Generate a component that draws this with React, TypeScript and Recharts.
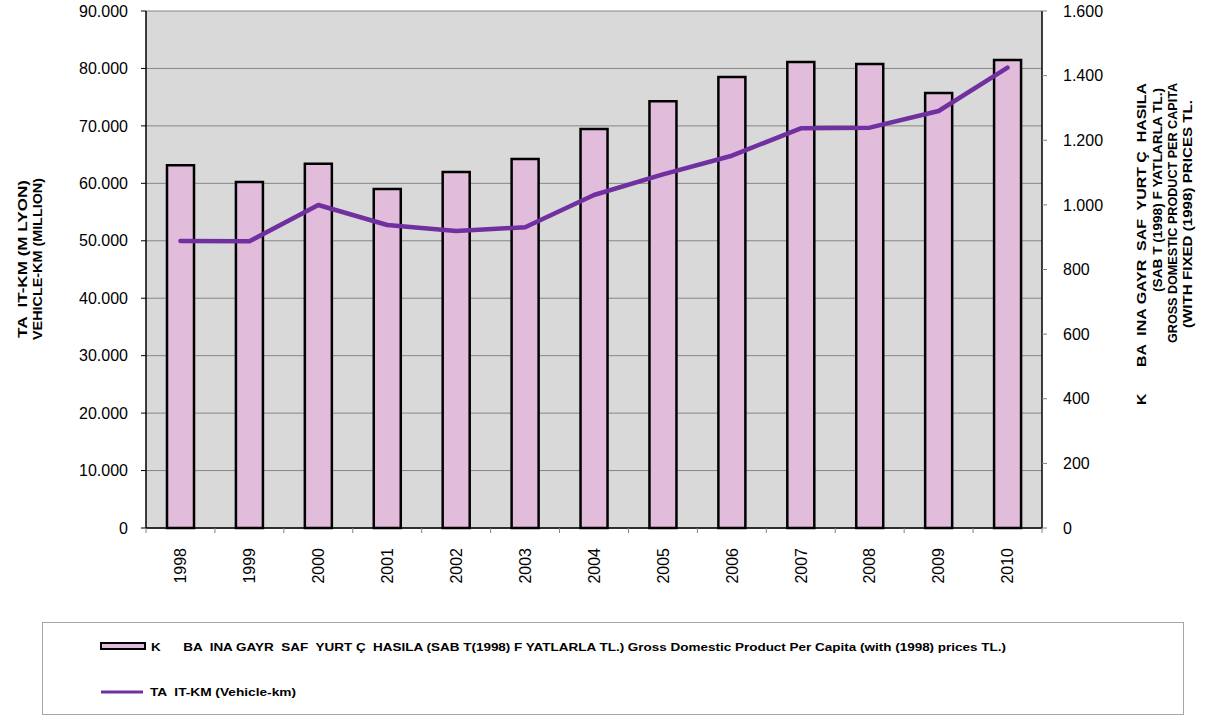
import React from 'react';
import { ComposedChart, Bar, Line, XAxis, YAxis, CartesianGrid } from 'recharts';

const years = ['1998', '1999', '2000', '2001', '2002', '2003', '2004', '2005', '2006', '2007', '2008', '2009', '2010'];
// Kişi başına GSYH (1998 sabit fiyatlarla TL) - right axis
const gdpPerCapita = [1123, 1071, 1127, 1049, 1102, 1142, 1235, 1321, 1396, 1442, 1436, 1346, 1448];
// Taşıt-km (milyon) - left axis
const vehicleKm = [49950, 49900, 56230, 52750, 51700, 52350, 57970, 61570, 64810, 69580, 69690, 72590, 80130];

const leftTicks = [0, 10000, 20000, 30000, 40000, 50000, 60000, 70000, 80000, 90000];
const rightTicks = [0, 200, 400, 600, 800, 1000, 1200, 1400, 1600];

const leftTitle = ['TA  IT-KM (M LYON)', 'VEHICLE-KM (MILLION)'];
const rightTitle = [
  'K      BA  INA GAYR  SAF  YURT Ç  HASILA',
  '(SAB T (1998) F YATLARLA TL.)',
  'GROSS DOMESTIC PRODUCT PER CAPITA',
  '(WITH FIXED (1998) PRICES TL.',
];
const legendBar = 'K      BA  INA GAYR  SAF  YURT Ç  HASILA (SAB T(1998) F YATLARLA TL.) Gross Domestic Product Per Capita (with (1998) prices TL.)';
const legendLine = 'TA  IT-KM (Vehicle-km)';

const data = years.map((year, i) => ({ year, gdp: gdpPerCapita[i], vkm: vehicleKm[i] }));

const W = 1214;
const H = 717;
const PLOT_LEFT = 146;
const PLOT_RIGHT = 1042;
const PLOT_TOP = 11;
const PLOT_BOTTOM = 528;
const BAND = (PLOT_RIGHT - PLOT_LEFT) / years.length;
const FONT = '"Liberation Sans", Arial, sans-serif';
const NARROW = '"Liberation Sans Narrow", "Liberation Sans", Arial, sans-serif';

const fmt = (v: number) => (v === 0 ? '0' : v.toLocaleString('de-DE'));

const YearTick = (props: any) => {
  const { x, payload, index } = props;
  const left = x - BAND / 2;
  return (
    <g>
      <line x1={left} y1={PLOT_BOTTOM} x2={left} y2={PLOT_BOTTOM + 5} stroke="#808080" strokeWidth={1} />
      {index === years.length - 1 && (
        <line x1={x + BAND / 2} y1={PLOT_BOTTOM} x2={x + BAND / 2} y2={PLOT_BOTTOM + 5} stroke="#808080" strokeWidth={1} />
      )}
      <text
        transform={`translate(${x},548) rotate(-90)`}
        textAnchor="end"
        dy="0.36em"
        fontSize={16}
        fontFamily={FONT}
        fill="#000"
      >
        {payload.value}
      </text>
    </g>
  );
};

const LeftTitle = () => (
  <g>
    {[22, 37].map((cx, i) => (
      <text
        key={i}
        transform={`translate(${cx},259) rotate(-90)`}
        textAnchor="middle"
        dy="0.36em"
        fontSize={13}
        fontWeight="bold"
        fontFamily={FONT}
        fill="#000"
        style={{ whiteSpace: 'pre' }}
        textLength={i === 0 ? 158 : 162}
        lengthAdjust="spacingAndGlyphs"
      >
        {leftTitle[i]}
      </text>
    ))}
  </g>
);

const rightTitlePos = [
  { x: 1141, start: 405, len: 322 },
  { x: 1157.5, start: 292, len: 204 },
  { x: 1172.5, start: 343, len: 260 },
  { x: 1187.5, start: 328, len: 228 },
];

const RightTitle = () => (
  <g>
    {rightTitlePos.map((p, i) => (
      <text
        key={i}
        transform={`translate(${p.x},${p.start}) rotate(-90)`}
        textAnchor="start"
        dy="0.36em"
        fontSize={12.5}
        fontWeight="bold"
        fontFamily={FONT}
        fill="#000"
        style={{ whiteSpace: 'pre' }}
        textLength={p.len}
        lengthAdjust="spacingAndGlyphs"
      >
        {rightTitle[i]}
      </text>
    ))}
  </g>
);

const LegendBox = () => (
  <div
    style={{
      position: 'absolute',
      left: 42,
      top: 622,
      width: 1142,
      height: 93,
      boxSizing: 'border-box',
      border: '1px solid #a6a6a6',
      background: '#fff',
    }}
  >
    <svg width={1140} height={91} style={{ display: 'block' }}>
      <rect x={58} y={20} width={44} height={6} fill="#e1bcdb" stroke="#000" strokeWidth={2} />
      <text
        x={108}
        y={28}
        fontSize={11.5}
        fontWeight="bold"
        fontFamily={NARROW}
        fill="#000"
        style={{ whiteSpace: 'pre' }}
        textLength={855}
        lengthAdjust="spacingAndGlyphs"
      >
        {legendBar}
      </text>
      <line x1={58} y1={69} x2={100} y2={69} stroke="#7030a0" strokeWidth={3} />
      <text
        x={107}
        y={73}
        fontSize={11.5}
        fontWeight="bold"
        fontFamily={NARROW}
        fill="#000"
        style={{ whiteSpace: 'pre' }}
        textLength={146}
        lengthAdjust="spacingAndGlyphs"
      >
        {legendLine}
      </text>
    </svg>
  </div>
);

export default function App() {
  return (
    <div style={{ position: 'absolute', left: 0, top: 0, width: W, height: H, background: '#fff' }}>
      <ComposedChart
        width={W}
        height={H}
        data={data}
        margin={{ top: PLOT_TOP, right: 0, bottom: 0, left: 0 }}
        barCategoryGap={0}
      >
        <CartesianGrid
          yAxisId="left"
          vertical={false}
          stroke="#868686"
          strokeWidth={1}
          fill="#d9d9d9"
          fillOpacity={1}
        />
        <XAxis
          dataKey="year"
          height={H - PLOT_BOTTOM}
          interval={0}
          tickLine={false}
          axisLine={{ stroke: '#000', strokeWidth: 1.5 }}
          tick={<YearTick />}
        />
        <YAxis
          yAxisId="left"
          orientation="left"
          width={PLOT_LEFT}
          domain={[0, 90000]}
          ticks={leftTicks}
          tickFormatter={fmt}
          tickSize={5}
          tickMargin={13}
          tickLine={{ stroke: '#000' }}
          axisLine={{ stroke: '#000', strokeWidth: 1.5 }}
          tick={{ fontSize: 16, fill: '#000', fontFamily: FONT }}
          label={{ content: () => <LeftTitle /> }}
        />
        <YAxis
          yAxisId="right"
          orientation="right"
          width={W - PLOT_RIGHT}
          domain={[0, 1600]}
          ticks={rightTicks}
          tickFormatter={fmt}
          tickSize={5}
          tickMargin={16}
          tickLine={{ stroke: '#808080' }}
          axisLine={{ stroke: '#000', strokeWidth: 1.5 }}
          tick={{ fontSize: 16, fill: '#000', fontFamily: FONT, textAnchor: 'start' }}
          label={{ content: () => <RightTitle /> }}
        />
        <Bar
          yAxisId="right"
          dataKey="gdp"
          barSize={27}
          fill="#e1bcdb"
          stroke="#000"
          strokeWidth={2.5}
          isAnimationActive={false}
        />
        <Line
          yAxisId="left"
          dataKey="vkm"
          type="linear"
          stroke="#7030a0"
          strokeWidth={4.5}
          strokeLinecap="round"
          strokeLinejoin="round"
          dot={false}
          activeDot={false}
          isAnimationActive={false}
        />
      </ComposedChart>
      <LegendBox />
    </div>
  );
}
